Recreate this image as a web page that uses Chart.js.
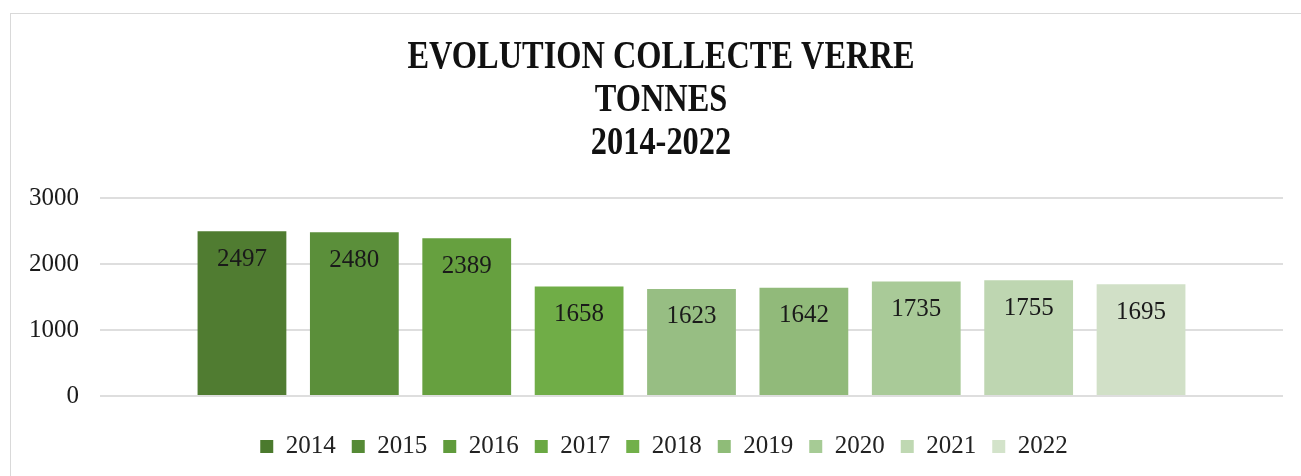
<!DOCTYPE html>
<html>
<head>
<meta charset="utf-8">
<script src="https://cdn.jsdelivr.net/npm/chart.js@4/dist/chart.umd.min.js"></script>
<style>
  html, body { margin: 0; padding: 0; background: #fff; overflow: hidden; }
  #frame { position: absolute; left: 10px; top: 13px; width: 1300px; height: 480px; border: 1px solid #d9d9d9; }
  #aditChart { position: absolute; left: 0; top: 0; }
</style>
</head>
<body>
<div id="frame"></div>
<canvas id="aditChart" width="1301" height="476"></canvas>
<script>
const years = ["2014", "2015", "2016", "2017", "2018", "2019", "2020", "2021", "2022"];
const tonnes = [2497, 2480, 2389, 1658, 1623, 1642, 1735, 1755, 1695];
const yTicks = [0, 1000, 2000, 3000];
const titleLines = ["EVOLUTION COLLECTE VERRE", "TONNES", "2014-2022"];

const barColors = ["#507c31", "#5b8f3a", "#66a03f", "#70ad47", "#97be83", "#91ba7a", "#a9ca98", "#bed6b1", "#d1e0c7"];
const legendColors = ["#4b7a2d", "#558a35", "#609b3c", "#6aa843", "#72b04a", "#8fbc78", "#a6cb95", "#bfd8b2", "#d3e3ca"];

Chart.defaults.font.family = '"Liberation Serif", serif';
Chart.defaults.color = "#1a1a1a";

// numbers written inside the top of each bar
const valueLabels = {
  id: "valueLabels",
  afterDatasetsDraw(chart) {
    const { ctx } = chart;
    ctx.save();
    ctx.font = '25px "Liberation Serif"';
    ctx.fillStyle = "#1a1a1a";
    ctx.textAlign = "center";
    ctx.textBaseline = "middle";
    chart.data.datasets.forEach((ds, i) => {
      chart.getDatasetMeta(i).data.forEach((bar, j) => {
        ctx.fillText(ds.data[j], bar.x, bar.y + 28);
      });
    });
    ctx.restore();
  },
};

// narrow bold title, like the office chart
const titleBlock = {
  id: "titleBlock",
  afterDraw(chart) {
    const { ctx } = chart;
    ctx.save();
    ctx.font = 'bold 40px "Liberation Serif"';
    ctx.fillStyle = "#111";
    ctx.textAlign = "center";
    ctx.textBaseline = "middle";
    titleLines.forEach((t, i) => {
      ctx.save();
      ctx.translate(661, 58 + i * 43);
      ctx.scale(0.81, 1);
      ctx.fillText(t, 0, 0);
      ctx.restore();
    });
    ctx.restore();
  },
};

const ctx = document.querySelector("#aditChart");

const data = {
  labels: [""],
  datasets: years.map((y, i) => ({
    label: y,
    data: [tonnes[i]],
    backgroundColor: barColors[i],
    borderWidth: 0,
    categoryPercentage: 0.855,
    barPercentage: 0.79,
  })),
};

let chart = new Chart(ctx, {
  type: "bar",
  data: data,
  plugins: [valueLabels, titleBlock],
  options: {
    responsive: false,
    animation: false,
    layout: { padding: { left: 27, right: 0, top: 198, bottom: 7 } },
    plugins: {
      tooltip: { enabled: false },
      title: { display: false },
      legend: {
        position: "bottom",
        labels: {
          boxWidth: 13,
          boxHeight: 13,
          padding: 16,
          font: { size: 25 },
          color: "#222",
          generateLabels(c) {
            const items = Chart.defaults.plugins.legend.labels.generateLabels(c);
            items.forEach((it, i) => {
              it.fillStyle = legendColors[i];
              it.strokeStyle = legendColors[i];
              it.lineWidth = 0;
            });
            return items;
          },
        },
      },
    },
    scales: {
      x: {
        grid: { display: false },
        border: { display: false },
        ticks: { display: false },
        afterFit(s) { s.height = 22; },
      },
      y: {
        min: 0,
        max: 3000,
        afterBuildTicks(s) { s.ticks = yTicks.map(v => ({ value: v })); },
        grid: { color: "#dedede", lineWidth: 2, drawTicks: false },
        border: { display: false },
        ticks: { padding: 21, font: { size: 25 }, color: "#1a1a1a", callback: v => String(v) },
        afterFit(s) { s.width = 73; },
      },
      // empty right margin so the legend sits a bit right of the plot centre
      yRight: {
        position: "right",
        grid: { display: false },
        border: { display: false },
        ticks: { display: false },
        afterFit(s) { s.width = 18; },
      },
    },
  },
});
</script>
</body>
</html>
